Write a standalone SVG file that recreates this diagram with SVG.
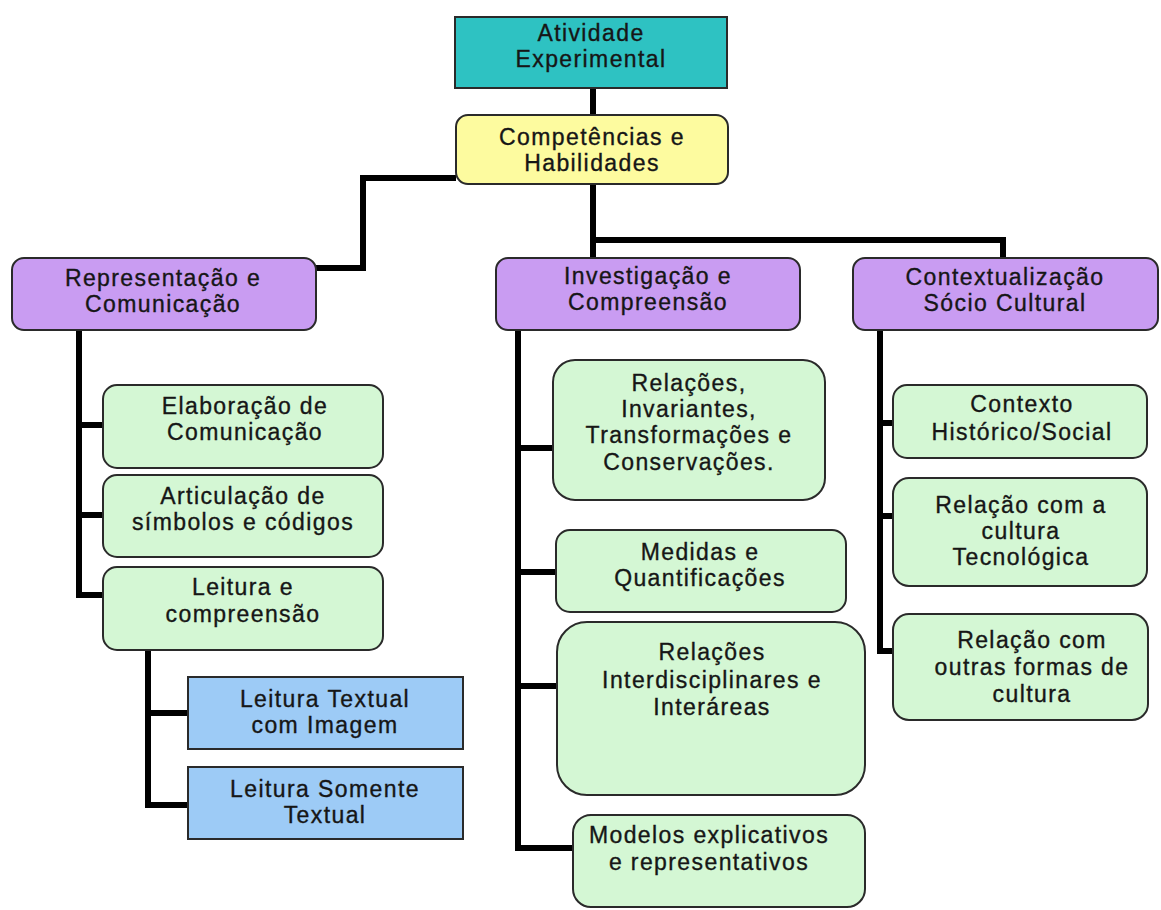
<svg xmlns="http://www.w3.org/2000/svg" width="1161" height="910" viewBox="0 0 1161 910">
<style>
text{font-family:"Liberation Sans",Arial,sans-serif;font-size:23px;fill:#161616;stroke:#161616;stroke-width:0.35;text-anchor:middle;letter-spacing:1.4px}
.box{stroke:#2a2a2a;stroke-width:2}
.teal{fill:#2EC2C2}
.yel{fill:#FDFB9F}
.pur{fill:#C99CF2}
.grn{fill:#D4F7D4}
.blu{fill:#9DCBF6}
.c{fill:none;stroke:#000;stroke-width:6;stroke-linejoin:miter;stroke-linecap:butt}
</style>
<rect width="1161" height="910" fill="#ffffff"/>
<g id="connectors">
<path class="c" d="M593,88 V115"/>
<path class="c" d="M593,184 V258"/>
<path class="c" d="M593,240 H1003 V258"/>
<path class="c" d="M456,178 H363 V268 H316"/>
<path class="c" d="M79,330 V595 H103"/>
<path class="c" d="M79,425 H103"/>
<path class="c" d="M79,515 H103"/>
<path class="c" d="M148,650 V805 H188"/>
<path class="c" d="M148,713 H188"/>
<path class="c" d="M518,330 V848 H573"/>
<path class="c" d="M518,448 H553"/>
<path class="c" d="M518,572 H556"/>
<path class="c" d="M518,686 H557"/>
<path class="c" d="M880,330 V651 H893"/>
<path class="c" d="M880,423 H893"/>
<path class="c" d="M880,516 H893"/>
</g>
<g id="atividade">
<rect class="box teal" x="455" y="17" width="272" height="71"/>
<text x="591" y="41">Atividade</text>
<text x="591" y="67">Experimental</text>
</g>
<g id="competencias">
<rect class="box yel" x="456" y="115" width="272" height="69" rx="12"/>
<text x="592" y="145">Competências e</text>
<text x="592" y="171">Habilidades</text>
</g>
<g id="representacao">
<rect class="box pur" x="12" y="258" width="304" height="72" rx="12"/>
<text x="163" y="286">Representação e</text>
<text x="163" y="312">Comunicação</text>
</g>
<g id="investigacao">
<rect class="box pur" x="496" y="258" width="304" height="72" rx="12"/>
<text x="648" y="284">Investigação e</text>
<text x="648" y="310">Compreensão</text>
</g>
<g id="contextualizacao">
<rect class="box pur" x="853" y="258" width="305" height="72" rx="12"/>
<text x="1005" y="285">Contextualização</text>
<text x="1005" y="311">Sócio Cultural</text>
</g>
<g id="elaboracao">
<rect class="box grn" x="103" y="385" width="280" height="83" rx="14"/>
<text x="245" y="414">Elaboração de</text>
<text x="245" y="440">Comunicação</text>
</g>
<g id="articulacao">
<rect class="box grn" x="103" y="475" width="280" height="82" rx="14"/>
<text x="243" y="504">Articulação de</text>
<text x="243" y="530">símbolos e códigos</text>
</g>
<g id="leitura">
<rect class="box grn" x="103" y="567" width="280" height="83" rx="14"/>
<text x="243" y="595">Leitura e</text>
<text x="243" y="622">compreensão</text>
</g>
<g id="leitura-imagem">
<rect class="box blu" x="188" y="677" width="275" height="72"/>
<text x="325" y="707">Leitura Textual</text>
<text x="325" y="733">com Imagem</text>
</g>
<g id="leitura-somente">
<rect class="box blu" x="188" y="767" width="275" height="72"/>
<text x="325" y="797">Leitura Somente</text>
<text x="325" y="823">Textual</text>
</g>
<g id="relacoes-invariantes">
<rect class="box grn" x="553" y="360" width="272" height="140" rx="22"/>
<text x="689" y="391">Relações,</text>
<text x="689" y="417">Invariantes,</text>
<text x="689" y="443">Transformações e</text>
<text x="689" y="470">Conservações.</text>
</g>
<g id="medidas">
<rect class="box grn" x="556" y="530" width="290" height="82" rx="14"/>
<text x="700" y="560">Medidas e</text>
<text x="700" y="586">Quantificações</text>
</g>
<g id="interdisciplinares">
<rect class="box grn" x="557" y="622" width="308" height="173" rx="30"/>
<text x="712" y="660">Relações</text>
<text x="712" y="688">Interdisciplinares e</text>
<text x="712" y="715">Interáreas</text>
</g>
<g id="modelos">
<rect class="box grn" x="573" y="815" width="292" height="92" rx="18"/>
<text x="709" y="843">Modelos explicativos</text>
<text x="709" y="870">e representativos</text>
</g>
<g id="contexto">
<rect class="box grn" x="893" y="385" width="254" height="73" rx="14"/>
<text x="1022" y="412">Contexto</text>
<text x="1022" y="440">Histórico/Social</text>
</g>
<g id="cultura-tecnologica">
<rect class="box grn" x="893" y="478" width="254" height="108" rx="16"/>
<text x="1021" y="513">Relação com a</text>
<text x="1021" y="539">cultura</text>
<text x="1021" y="565">Tecnológica</text>
</g>
<g id="outras-formas">
<rect class="box grn" x="893" y="614" width="255" height="106" rx="16"/>
<text x="1032" y="648">Relação com</text>
<text x="1032" y="675">outras formas de</text>
<text x="1032" y="702">cultura</text>
</g>
</svg>
